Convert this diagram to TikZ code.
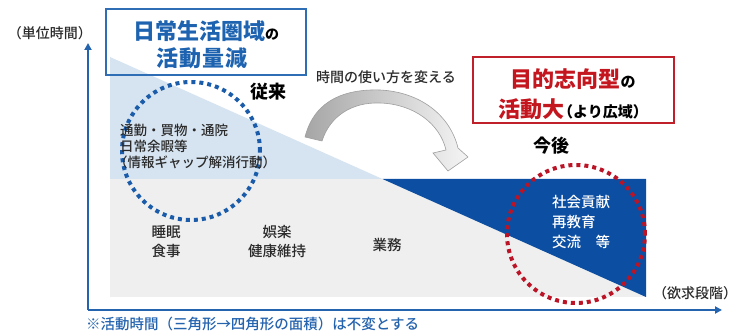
\documentclass[tikz,border=0pt]{standalone}
\usepackage{fontspec}
\setmainfont{Noto Sans CJK JP Medium}[BoldFont={Noto Sans CJK JP Bold}]
\newfontfamily\heavy{Noto Sans CJK JP Black}
\usetikzlibrary{arrows.meta}
\definecolor{axisblue}{HTML}{2463AE}
\definecolor{headblue}{HTML}{1E63B0}
\definecolor{boxblue}{HTML}{2F6DB5}
\definecolor{headred}{HTML}{C4161F}
\definecolor{boxred}{HTML}{C0202A}
\definecolor{lightblue}{HTML}{D6E4F1}
\definecolor{lightgray}{HTML}{EFEFEF}
\definecolor{darkblue}{HTML}{0B4EA2}
\definecolor{dotblue}{HTML}{1A5CAA}
\definecolor{dotred}{HTML}{BA1426}
\definecolor{txt}{HTML}{2A2A2A}
\begin{document}
\begin{tikzpicture}[x=1pt,y=-1pt,
  every node/.style={inner sep=0pt,outer sep=0pt},
  axis/.style={draw=axisblue,line width=2.4pt,-{Triangle[length=7pt,width=7pt]}},
  dotcircle/.style={line width=4pt,dash pattern=on 4pt off 4pt},
  lbl/.style={font=\fontsize{14}{19}\selectfont,text=txt,align=center},
  small/.style={font=\fontsize{13.5}{16}\selectfont,text=txt,align=left},
  big/.style={font=\fontsize{18}{20}\selectfont\heavy,text=black},
  headb/.style={font=\fontsize{22}{24}\selectfont\heavy,text=headblue},
  headr/.style={font=\fontsize{22}{24}\selectfont\heavy,text=headred}
]
\useasboundingbox (0,0) rectangle (737,336);
\fill[white] (0,0) rectangle (737,336);

% regions
\fill[lightblue] (110,57) -- (110,179) -- (382.5,179) -- cycle;
\fill[lightgray] (110,179) rectangle (646,297);
\fill[darkblue] (382.5,179) -- (646,179) -- (646,297) -- cycle;

% axes
\coordinate (O) at (88,310);
\coordinate (ytop) at (88,43);
\coordinate (xend) at (722,310);
\draw[axis] (O) -- (ytop);
\draw[axis] (O) -- (xend);

% curved arrow
\shade[left color=gray!70,right color=gray!8,draw=gray!75,line width=0.6pt]
  (305,137) .. controls (315,98) and (348,89) .. (380,90)
  .. controls (420,92) and (450,115) .. (458,148)
  -- (468,157) -- (448,171) -- (433,153) -- (446,150)
  .. controls (440,124) and (414,104) .. (380,103)
  .. controls (352,102) and (330,116) .. (322,141) -- cycle;

% dotted circles
\draw[dotcircle,dotblue] (191,151) circle[radius=69pt];
\draw[dotcircle,dotred] (576,234) circle[radius=69pt];

% boxes
\node[draw=boxblue,line width=2pt,minimum width=200pt,minimum height=66pt] (bluebox) at (205.5,42.5) {};
\node[draw=boxred,line width=2pt,minimum width=201pt,minimum height=66pt] (redbox) at (573,90.5) {};

\node[headb,anchor=base] (b1) at (206,40) {日常生活圏域{\fontsize{14}{16}\selectfont\color{black}の}};
\node[headb,anchor=base] (b2) at (202,67) {活\hspace{1pt}動\hspace{1pt}量\hspace{1pt}減};
\node[headr,anchor=base] (r1) at (573,88) {目的志向型{\fontsize{15}{16}\selectfont\color{black}の}};
\node[headr,anchor=base] (r2) at (573,118) {活動大{\fontsize{15}{16}\selectfont\color{black}\hspace{-6pt}（より広域）}};

% labels
\node[lbl] (unit) at (50,33) {（単位時間）};
\node[big] (before) at (268,92) {従来};
\node[big] (after) at (551,146) {今後};
\node[lbl] (change) at (386,77) {時間の使い方を変える};
\node[small,anchor=west] (daily) at (120,146) {通勤・買物・通院\\日常余暇等\\\hspace{-6pt}（情報ギャップ解消行動）};
\node[lbl,font=\fontsize{14.5}{19}\selectfont] (sleep) at (166,242) {睡眠\\食事};
\node[lbl,font=\fontsize{14.5}{19}\selectfont] (fun) at (277,242) {娯楽\\健康維持};
\node[lbl,font=\fontsize{14.5}{19}\selectfont] (work) at (387,245) {業務};
\node[lbl,font=\fontsize{14.5}{20}\selectfont,text=white,align=left,anchor=west] (social) at (552,222) {社会貢献\\再教育\\交流　等};
\node[lbl] (need) at (695,293) {（欲求段階）};
\node[lbl,text=axisblue,anchor=west,font=\fontsize{14.5}{16}\selectfont] (note) at (86,324) {※活動時間（三角形→四角形の面積）は不変とする};
\end{tikzpicture}
\end{document}
